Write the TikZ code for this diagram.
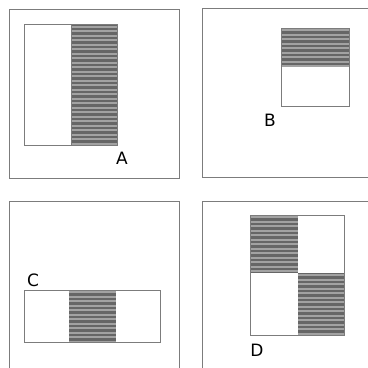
\documentclass[tikz,border=0pt]{standalone}
\usepackage{fontspec}
\setmainfont{DejaVu Sans}
\definecolor{framegray}{HTML}{7C7C7C}
\definecolor{stripedark}{HTML}{666666}
\definecolor{stripelight}{HTML}{A2A2A2}
% striped (shaded) rectangle: x1, y1, x2, y2
\newcommand{\hatchbox}[4]{%
  \fill[stripedark] (#1,#2) rectangle (#3,#4);
  \begin{scope}
    \clip (#1,#2) rectangle (#3,#4);
    \foreach \yy in {0,4.5,...,130}
      \draw[stripelight,line width=1.8] (#1,{#2+\yy+2.2}) -- (#3,{#2+\yy+2.2});
  \end{scope}}

\begin{document}
\begin{tikzpicture}[x=1pt,y=-1pt,line width=0.9,
    panel/.style={draw=framegray},
    lbl/.style={font=\fontsize{17}{20}\selectfont}]
  \useasboundingbox (0,0) rectangle (368,368);
  \clip (0,0) rectangle (368,368);
  % outer frames
  \draw[panel] (9,9) rectangle (179,178);
  \draw[panel] (202,8) rectangle (390,177);
  \draw[panel] (9,201) rectangle (179,390);
  \draw[panel] (202,201) rectangle (390,390);
  % A: right half shaded
  \hatchbox{71.5}{24.5}{117}{145}
  \draw[panel] (24.5,24.5) rectangle (117,145);
  \draw[panel] (71.5,24.5) -- (71.5,145);
  \node[lbl] (labA) at (122,158) {A};
  % B: top half shaded
  \hatchbox{281}{28}{349}{66}
  \draw[panel] (281,28) rectangle (349,106);
  \node[lbl] (labB) at (270,120) {B};
  % C: middle third shaded
  \hatchbox{69}{290}{116}{342}
  \draw[panel] (24.7,290) rectangle (160,342);
  \node[lbl] (labC) at (33,280) {C};
  % D: two diagonal quarters shaded
  \hatchbox{250}{215}{298}{273}
  \hatchbox{298}{273}{344}{335}
  \draw[panel] (250,215) rectangle (344,335);
  \node[lbl] (labD) at (257,350) {D};
\end{tikzpicture}
\end{document}
